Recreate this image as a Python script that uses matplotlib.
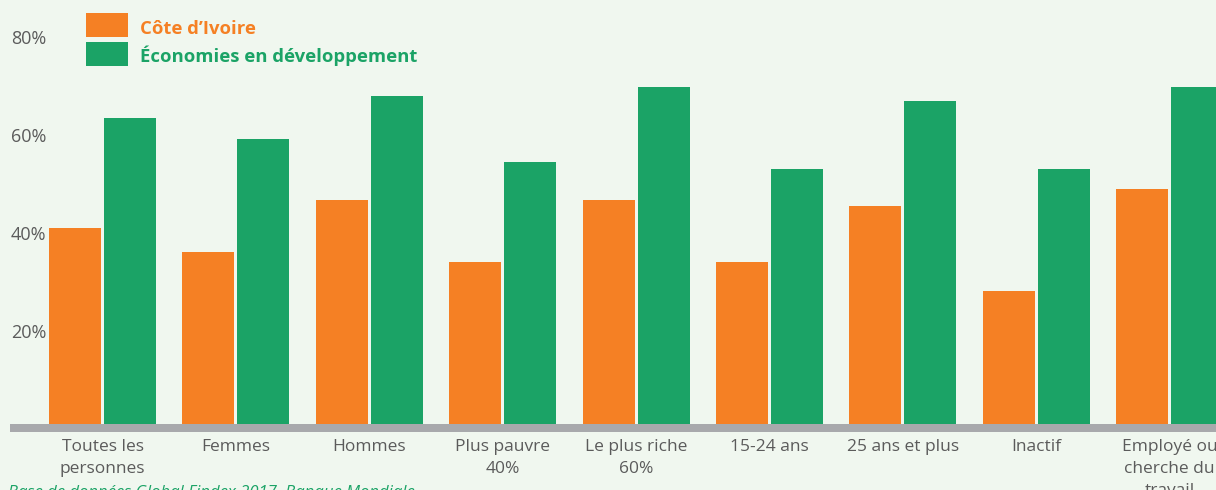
import matplotlib
matplotlib.use("Agg")
import matplotlib.pyplot as plt
import numpy as np
from matplotlib.patches import Rectangle

# ---------------- data ----------------
categories = ["Toutes les\npersonnes", "Femmes", "Hommes", "Plus pauvre\n40%",
              "Le plus riche\n60%", "15-24 ans", "25 ans et plus", "Inactif",
              "Employé ou\ncherche du\ntravail"]
cote_ivoire = [40.9, 35.9, 46.5, 33.9, 46.5, 33.9, 45.3, 28.0, 48.8]
developing = [63.3, 59.0, 67.8, 54.3, 69.6, 52.9, 66.7, 52.9, 69.6]
y_ticks = [20, 40, 60, 80]
y_tick_labels = ["20%", "40%", "60%", "80%"]
series_names = ["Côte d’Ivoire", "Économies en développement"]
source_text = "Base de données Global Findex 2017, Banque Mondiale"

# ---------------- style ----------------
ORANGE = "#F58024"
GREEN = "#1BA366"
GRAY_AXIS = "#A8A9AC"
TEXT = "#5B5B5B"
BG = "#F0F7EF"
FONT = ["Open Sans", "DejaVu Sans"]

W, H = 1216, 490
fig = plt.figure(figsize=(W / 100, H / 100), dpi=100)
fig.patch.set_facecolor(BG)
ax = fig.add_axes([0, 0, 1, 1])
ax.set_facecolor(BG)
ax.axis("off")

# layout scale (pixels)
GROUP_PX = 133.375
X0_PX = 102.5
ZERO_PX = 428.0
PCT_PX = 4.9

def dx(px):
    return (px - X0_PX) / GROUP_PX

def dy(py):
    return (ZERO_PX - py) / PCT_PX

ax.set_xlim(dx(0), dx(W))
ax.set_ylim(dy(H), dy(0))

x = np.arange(len(categories))
bw = 52 / GROUP_PX
off = 27.5 / GROUP_PX
ax.bar(x - off, cote_ivoire, width=bw, color=ORANGE, zorder=2)
ax.bar(x + off, developing, width=bw, color=GREEN, zorder=2)

# baseline bar
ax.axhspan(dy(431.7), dy(424.3), xmin=10 / W, xmax=1, color=GRAY_AXIS, zorder=3, lw=0)

# y tick labels
for v, lab in zip(y_ticks, y_tick_labels):
    ax.text(dx(46), v - 3 / PCT_PX, lab, ha="right", va="center", fontsize=13,
            color=TEXT, family=FONT)

# x category labels
for xi, lab in zip(x, categories):
    ax.text(xi, dy(439), lab, ha="center", va="top", fontsize=12.5,
            color=TEXT, family=FONT, linespacing=1.5, multialignment="center")

# legend
for (y0, col, name, base) in [(13, ORANGE, series_names[0], 34),
                              (42, GREEN, series_names[1], 62.5)]:
    fig.add_artist(Rectangle((86 / W, 1 - (y0 + 24) / H), 42 / W, 24 / H,
                             transform=fig.transFigure, color=col, lw=0))
    fig.text(140 / W, 1 - base / H, name, ha="left", va="baseline",
             fontsize=13.3, fontweight="bold", color=col, family=FONT)

# source
fig.text(8 / W, 1 - 497 / H, source_text, ha="left", va="baseline",
         fontsize=12, style="italic", color=GREEN, family=FONT)

fig.savefig("out.png", dpi=100, facecolor=BG)
